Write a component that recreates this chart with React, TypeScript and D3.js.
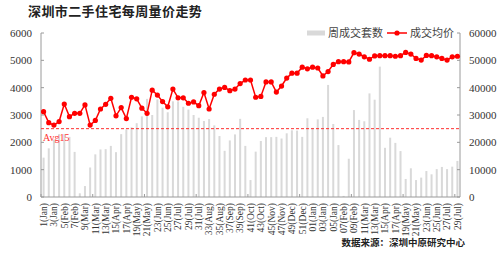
import React from "react";
import * as d3 from "d3";

const weekLabels: string[] = [
  "1(Jan)","2(Jan)","3(Jan)","4(Jan)","5(Feb)","6(Feb)","7(Feb)","8(Feb)","9(Mar)","10(Mar)",
  "11(Mar)","12(Mar)","13(Mar)","14(Apr)","15(Apr)","16(Apr)","17(Apr)","18(May)","19(May)","20(May)",
  "21(May)","22(May)","23(Jun)","24(Jun)","25(Jun)","26(Jun)","27(Jul)","28(Jul)","29(Jul)","30(Jul)",
  "31(Jul)","32(Aug)","33(Aug)","34(Aug)","35(Aug)","36(Sep)","37(Sep)","38(Sep)","39(Sep)","40(Oct)",
  "41(Oct)","42(Oct)","43(Oct)","44(Oct)","45(Nov)","46(Nov)","47(Nov)","48(Nov)","49(Dec)","50(Dec)",
  "51(Dec)","52(Dec)",
  "01(Jan)","02(Jan)","03(Jan)","04(Jan)","05(Jan)","06(Feb)","07(Feb)","08(Feb)","09(Feb)","10(Mar)",
  "11(Mar)","12(Mar)","13(Mar)","14(Apr)","15(Apr)","16(Apr)","17(Apr)","18(May)","19(May)","20(May)",
  "21(May)","22(May)","23(Jun)","24(Jun)","25(Jun)","26(Jun)","27(Jul)","28(Jul)","29(Jul)",
];

const weeklyDeals: number[] = [
  1440, 1780, 2100, 2300, 2300, 2200, 1650, 135, 400, 1080,
  1560, 1740, 1750, 1870, 1640, 2300, 2470, 2550, 2700, 2950,
  3590, 3000, 3570, 3270, 3100, 3500, 3500, 3300, 3200, 3000,
  2900, 2780, 2850, 2620, 2230, 1690, 2070, 2290, 2860, 1870,
  620, 1660, 2050, 2190, 2190, 2200, 2140, 2330, 2440, 2430,
  2200, 2880, 2530, 2840, 2930, 4100, 2670, 1900, 40, 1400,
  3180, 2820, 2770, 3790, 3560, 4770, 1800, 2170, 1980, 1680,
  660, 1050, 620, 710, 950, 830, 1020, 1100, 1020, 1110,
  1320,
];

const avgPrice: number[] = [
  31200, 27200, 26300, 27600, 34000, 29400, 30600, 30600, 33700, 26300,
  28000, 32200, 33900, 36100, 29700, 32700, 28700, 36500, 35900, 32500,
  30600, 39100, 37300, 34900, 33000, 39500, 36300, 36300, 34300, 34800,
  33400, 38200, 32200, 37600, 39500, 40100, 38900, 39500, 41500, 42800,
  42800, 36500, 36800, 42100, 42100, 38400, 40600, 43500, 45300, 45300,
  47500, 46900, 47500, 47200, 44300, 45900, 48500, 49500, 49500, 49400,
  52800, 52300, 51300, 50400, 51600, 51700, 51700, 51700, 51500, 51700,
  52900, 52300, 50700, 50100, 51800, 51700, 51300, 50700, 50100, 51300,
  51500,
];

const leftTicks: number[] = [0, 1000, 2000, 3000, 4000, 5000, 6000];
const rightTicks: number[] = [0, 10000, 20000, 30000, 40000, 50000, 60000];
const avg15Value = 2500;

const title = "深圳市二手住宅每周量价走势";
const legendBars = "周成交套数";
const legendLine = "成交均价";
const sourceText = "数据来源：深圳中原研究中心";

const W = 500;
const H = 269;
const M = { left: 41, right: 460, top: 33, bottom: 197 };

const serif = "'Liberation Serif', 'Times New Roman', serif";
const cjk = "'Noto Sans CJK SC', sans-serif";

export default function App() {
  const x = d3
    .scaleBand<number>()
    .domain(d3.range(weekLabels.length))
    .range([M.left, M.right])
    .padding(0);
  const yL = d3.scaleLinear().domain([0, 6000]).range([M.bottom, M.top]);
  const yR = d3.scaleLinear().domain([0, 60000]).range([M.bottom, M.top]);
  const step = x.step();
  const barW = 2;
  const cx = (i: number) => (x(i) as number) + step / 2;

  const line = d3
    .line<number>()
    .x((_, i) => cx(i))
    .y((d) => yR(d));

  const axisColor = "#9a9a9a";

  return (
    <svg
      width={W}
      height={H}
      style={{ position: "absolute", left: 0, top: 0, background: "#fff" }}
    >
      <rect x={0} y={0} width={W} height={H} fill="#fff" />
      {/* title */}
      <text x={28} y={16} fontFamily={cjk} fontSize={13} fontWeight={700} fill="#222" letterSpacing={0.4}>
        {title}
      </text>

      {/* bars */}
      {weeklyDeals.map((d, i) => (
        <rect
          key={"b" + i}
          x={cx(i) - barW / 2}
          y={yL(d)}
          width={barW}
          height={yL(0) - yL(d)}
          fill="#d9d9d9"
        />
      ))}

      {/* axes */}
      <line x1={M.left} x2={M.left} y1={M.top} y2={M.bottom} stroke={axisColor} />
      <line x1={M.right} x2={M.right} y1={M.top} y2={M.bottom} stroke={axisColor} />
      <line x1={M.left} x2={M.right} y1={M.bottom} y2={M.bottom} stroke={axisColor} />
      {leftTicks.map((t) => (
        <g key={"l" + t}>
          <line x1={M.left} x2={M.left + 3} y1={yL(t)} y2={yL(t)} stroke={axisColor} />
          <text x={32} y={yL(t)} dy="0.35em" textAnchor="end" fontFamily={serif} fontSize={11} fill="#333">
            {t}
          </text>
        </g>
      ))}
      {rightTicks.map((t) => (
        <g key={"r" + t}>
          <line x1={M.right - 3} x2={M.right} y1={yR(t)} y2={yR(t)} stroke={axisColor} />
          <text x={469} y={yR(t)} dy="0.35em" textAnchor="start" fontFamily={serif} fontSize={11} fill="#333">
            {t}
          </text>
        </g>
      ))}
      {d3.range(0, weekLabels.length + 1, 10).map((k) => {
        const xx = M.left + k * step;
        return <line key={"t" + k} x1={xx} x2={xx} y1={M.bottom} y2={M.bottom - 3} stroke={axisColor} />;
      })}

      {/* x labels */}
      {weekLabels.map((lab, i) =>
        i % 2 === 0 ? (
          <text
            key={"x" + i}
            transform={`translate(${cx(i)},${M.bottom + 6}) rotate(-90)`}
            dy="0.35em"
            textAnchor="end"
            fontFamily={serif}
            fontSize={9.5}
            fill="#333"
          >
            {lab}
          </text>
        ) : null
      )}

      {/* Avg15 line */}
      <line
        x1={M.left}
        x2={M.right}
        y1={yL(avg15Value)}
        y2={yL(avg15Value)}
        stroke="#ff3030"
        strokeDasharray="3,2"
        strokeWidth={1}
      />
      <text x={43} y={yL(avg15Value) + 12} fontFamily={serif} fontSize={10} fill="#ff3030">
        Avg15
      </text>

      {/* price line */}
      <path d={line(avgPrice) || ""} fill="none" stroke="#ff0000" strokeWidth={1.5} />
      {avgPrice.map((d, i) => (
        <circle key={"p" + i} cx={cx(i)} cy={yR(d)} r={2.6} fill="#ff0000" />
      ))}

      {/* legend */}
      <rect x={307} y={30.5} width={18} height={5} fill="#d9d9d9" />
      <text x={328} y={33} dy="0.35em" fontFamily={cjk} fontSize={11} fill="#444">
        {legendBars}
      </text>
      <line x1={387} x2={407} y1={33} y2={33} stroke="#ff0000" strokeWidth={1.5} />
      <circle cx={397} cy={33} r={2.6} fill="#ff0000" />
      <text x={410} y={33} dy="0.35em" fontFamily={cjk} fontSize={11} fill="#444">
        {legendLine}
      </text>

      {/* source */}
      <text x={465} y={243} dy="0.35em" textAnchor="end" fontFamily={cjk} fontSize={9.5} fontWeight={700} fill="#222">
        {sourceText}
      </text>
    </svg>
  );
}
